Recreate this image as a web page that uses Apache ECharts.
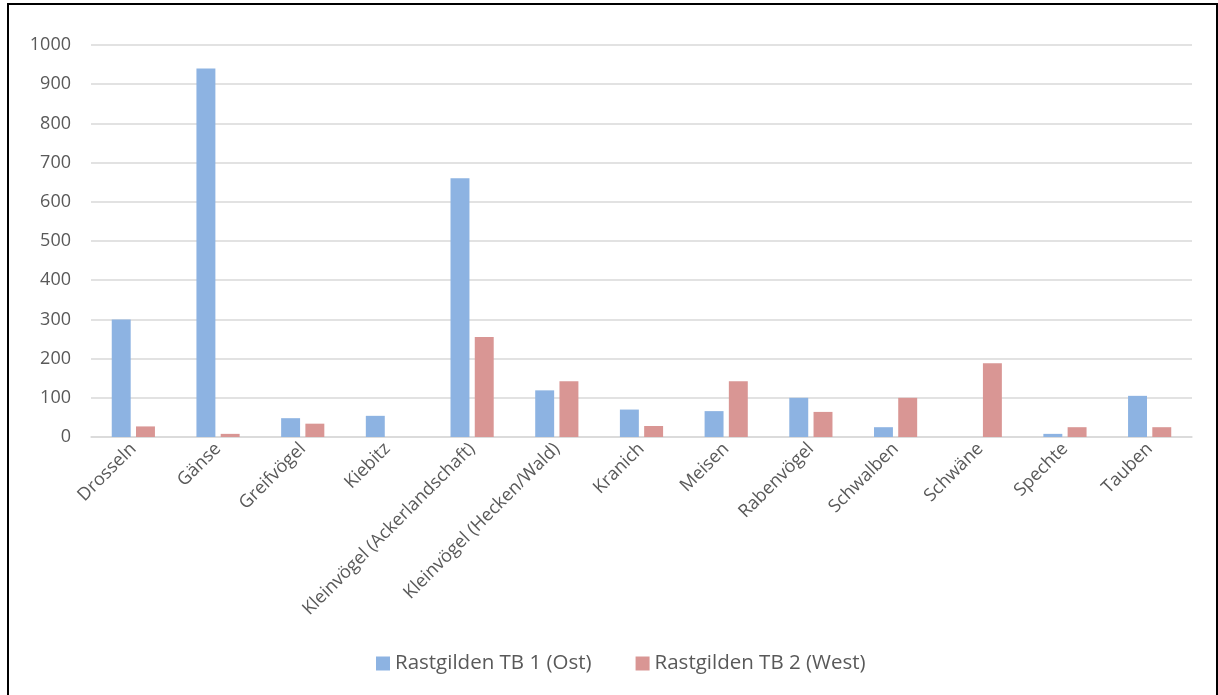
<!DOCTYPE html>
<html>
<head>
<meta charset="utf-8">
<script src="https://cdn.jsdelivr.net/npm/echarts@6/dist/echarts.min.js"></script>
<style>
  html, body { margin: 0; padding: 0; background: #fff; }
  #frame {
    position: absolute; left: 7px; top: 3px; width: 1211px; height: 700px;
    border-top: 2px solid #000; border-left: 2px solid #000; border-right: 2px solid #000;
    box-sizing: border-box;
  }
  #chart { position: absolute; left: 0; top: 0; width: 1218px; height: 695px; }
</style>
</head>
<body>
<div id="frame"></div>
<div id="chart"></div>
<script>
const categories = ['Drosseln', 'Gänse', 'Greifvögel', 'Kiebitz', 'Kleinvögel (Ackerlandschaft)',
  'Kleinvögel (Hecken/Wald)', 'Kranich', 'Meisen', 'Rabenvögel', 'Schwalben', 'Schwäne', 'Spechte', 'Tauben'];
const ost = [300, 940, 48, 54, 660, 119, 70, 66, 100, 25, 0, 8, 105];
const west = [27, 8, 34, 0, 255, 142, 28, 142, 64, 100, 188, 25, 25];
const seriesNames = ['Rastgilden TB 1 (Ost)', 'Rastgilden TB 2 (West)'];

const chart = echarts.init(document.getElementById('chart'));
const font = '"Open Sans", "DejaVu Sans", sans-serif';
chart.setOption({
  animation: false,
  textStyle: { fontFamily: font },
  grid: { left: 91, right: 26, top: 45, bottom: 258 },
  legend: {
    data: seriesNames,
    top: 648,
    left: 371,
    itemWidth: 14, itemHeight: 14, itemGap: 44,
    icon: 'rect',
    textStyle: { fontSize: 20.5, color: '#595959', fontFamily: font }
  },
  xAxis: {
    type: 'category',
    data: categories,
    axisLine: { lineStyle: { color: '#D9D9D9', width: 1.5 } },
    axisTick: { show: false },
    axisLabel: { rotate: 45, interval: 0, fontSize: 18, color: '#595959', margin: 9 }
  },
  yAxis: {
    type: 'value',
    min: 0, max: 1000, interval: 100,
    axisLine: { show: false },
    axisTick: { show: false },
    axisLabel: { fontSize: 18, color: '#595959', margin: 20, formatter: v => String(v) },
    splitLine: { lineStyle: { color: '#D9D9D9', width: 1.5 } }
  },
  series: [
    { name: seriesNames[0], type: 'bar', data: ost, barGap: '28%', barCategoryGap: '49%',
      itemStyle: { color: '#8DB3E2' } },
    { name: seriesNames[1], type: 'bar', data: west,
      itemStyle: { color: '#D99694' } }
  ]
});
</script>
</body>
</html>
